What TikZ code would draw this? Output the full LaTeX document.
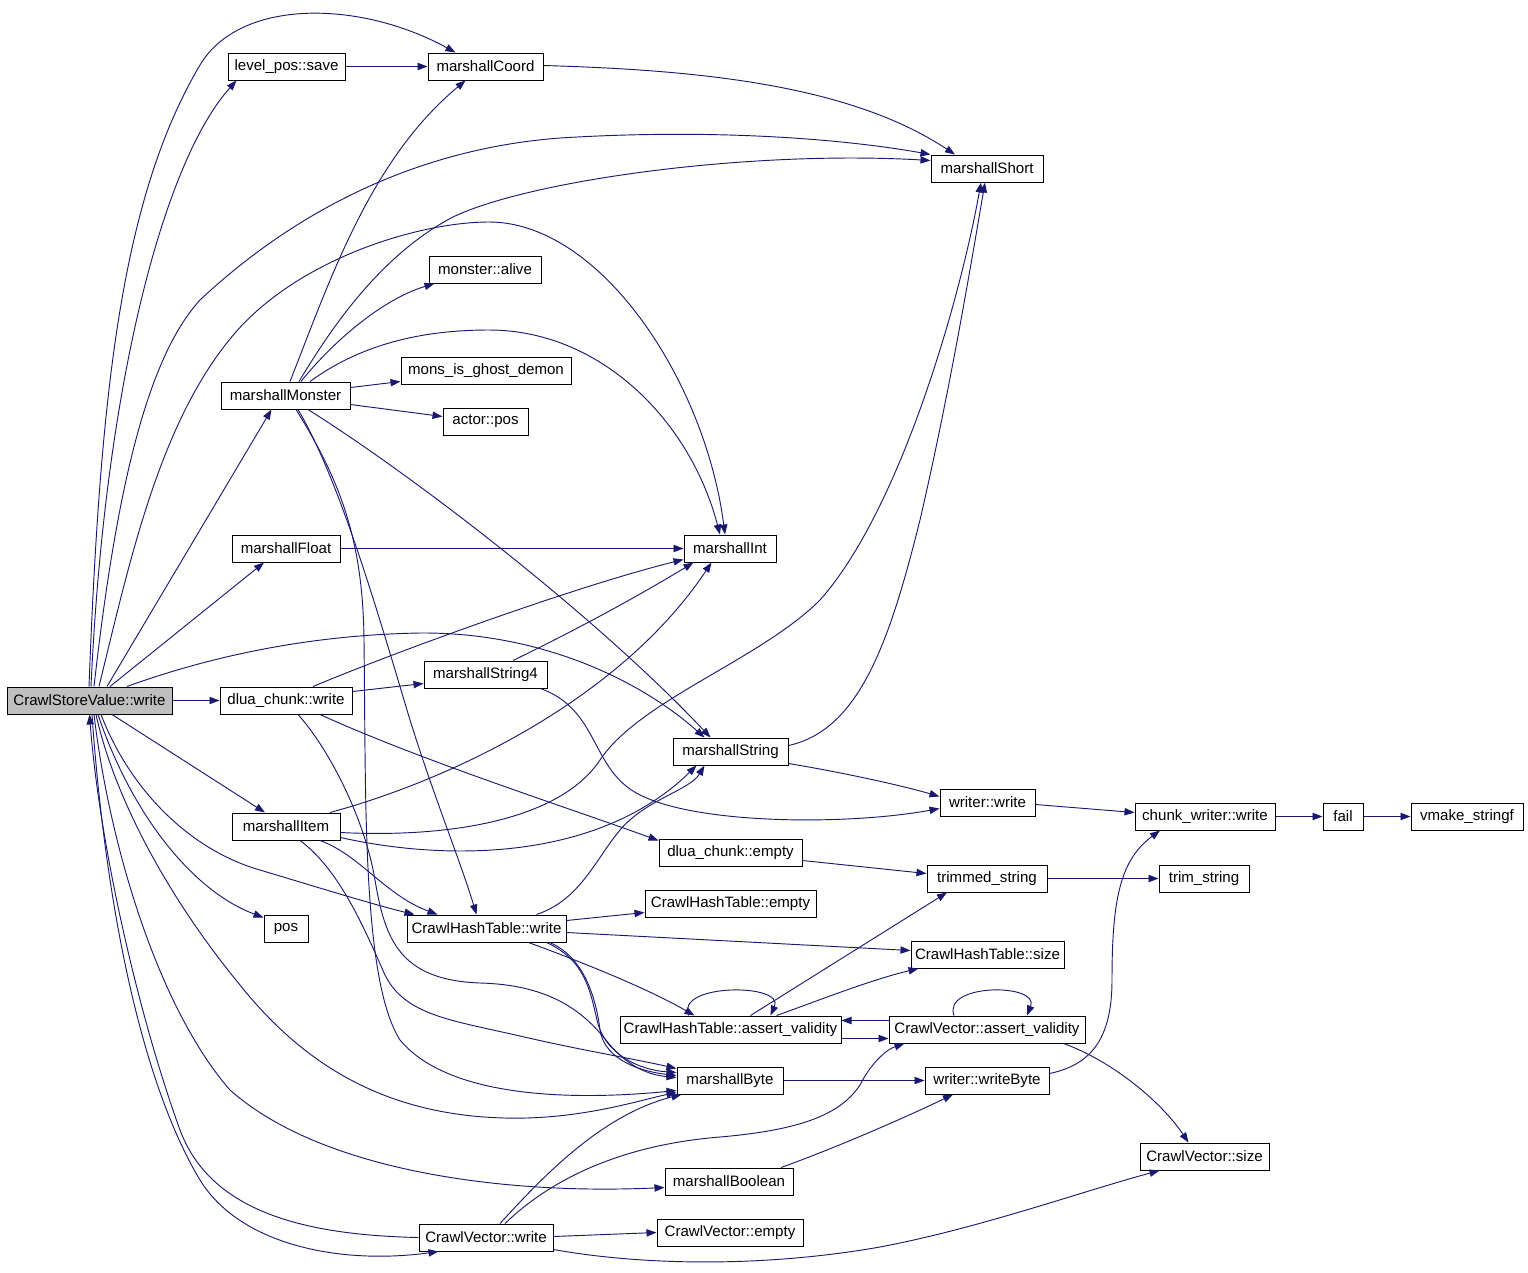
\documentclass[tikz,border=0pt]{standalone}
\usepackage{fontspec}
\setmainfont{Liberation Sans}
\usetikzlibrary{arrows.meta,calc}
\definecolor{edgeblue}{RGB}{25,25,112}
\definecolor{rootgray}{RGB}{191,191,191}
\begin{document}
\begin{tikzpicture}[x=0.75pt,y=-0.75pt,
  box/.style={draw=black,line width=0.75pt,rectangle,inner sep=0pt,minimum height=20.25pt,font=\fontsize{11.3pt}{13pt}\selectfont,fill=white},
  root/.style={box,fill=rootgray},
  edge/.style={draw=edgeblue,line width=0.7pt,-{Triangle[length=7.5pt,width=5.5pt]}},
]
\useasboundingbox (0,0) rectangle (1528,1272);
% nodes
\node[root,minimum width=123.75pt] (csv) at (89.5,700.5) {CrawlStoreValue::write};
\node[box,minimum width=87.75pt] (lps) at (286.5,66.5) {level\_pos::save};
\node[box,minimum width=86.25pt] (mcoord) at (485.5,66.5) {marshallCoord};
\node[box,minimum width=84pt] (mshort) at (987,168.5) {marshallShort};
\node[box,minimum width=84pt] (malive) at (485,269.5) {monster::alive};
\node[box,minimum width=127.5pt] (mghost) at (486,370.5) {mons\_is\_ghost\_demon};
\node[box,minimum width=63.75pt] (apos) at (485.5,421.5) {actor::pos};
\node[box,minimum width=96.75pt] (mmon) at (285.5,395.5) {marshallMonster};
\node[box,minimum width=81pt] (mfloat) at (286,548.5) {marshallFloat};
\node[box,minimum width=69pt] (mint) at (730,548.5) {marshallInt};
\node[box,minimum width=92.25pt] (ms4) at (485.5,674.5) {marshallString4};
\node[box,minimum width=99pt] (dcw) at (286,700.5) {dlua\_chunk::write};
\node[box,minimum width=86.25pt] (mstr) at (730.5,751.5) {marshallString};
\node[box,minimum width=71.25pt] (ww) at (987.5,802.5) {writer::write};
\node[box,minimum width=105pt] (cww) at (1205,816.5) {chunk\_writer::write};
\node[box,minimum width=30pt] (fail) at (1343,816.5) {fail};
\node[box,minimum width=84pt] (vms) at (1467,816.5) {vmake\_stringf};
\node[box,minimum width=81pt] (mitem) at (286,826.5) {marshallItem};
\node[box,minimum width=107.25pt] (dce) at (730.5,852.5) {dlua\_chunk::empty};
\node[box,minimum width=90pt] (tstr) at (987,878.5) {trimmed\_string};
\node[box,minimum width=67.5pt] (trim) at (1204,878.5) {trim\_string};
\node[box,minimum width=33pt] (pos) at (286,928.5) {pos};
\node[box,minimum width=119.25pt] (chw) at (486.5,928.5) {CrawlHashTable::write};
\node[box,minimum width=128.25pt] (che) at (730.5,903.5) {CrawlHashTable::empty};
\node[box,minimum width=114.75pt] (chs) at (987.5,954.5) {CrawlHashTable::size};
\node[box,minimum width=165.75pt] (chav) at (730.5,1029.5) {CrawlHashTable::assert\_validity};
\node[box,minimum width=147pt] (cvav) at (987,1029.5) {CrawlVector::assert\_validity};
\node[box,minimum width=79.5pt] (mbyte) at (730,1080.5) {marshallByte};
\node[box,minimum width=93pt] (wwb) at (987,1080.5) {writer::writeByte};
\node[box,minimum width=96.75pt] (cvs) at (1204.5,1156.5) {CrawlVector::size};
\node[box,minimum width=96pt] (mbool) at (729,1181.5) {marshallBoolean};
\node[box,minimum width=100.5pt] (cvw) at (486,1237.5) {CrawlVector::write};
\node[box,minimum width=109.5pt] (cve) at (730,1232.5) {CrawlVector::empty};
% CrawlStoreValue::write, upward
\draw[edge] ($(csv.north)+(1.5,0)$) .. controls (105,380) and (165,160) .. ($(lps.south)+(-50,0)$);
\draw[edge] ($(csv.north)+(-0.5,0)$) .. controls (100,400) and (120,200) .. (200,65) .. controls (240,-2) and (360,0) .. ($(mcoord.north)+(-30,0)$);
\draw[edge] ($(csv.north)+(4.5,0)$) .. controls (115,500) and (145,360) .. (200,300) .. controls (280,225) and (400,150) .. (560,138) .. controls (720,128) and (850,140) .. ($(mshort.west)+(0,-14)$);
\draw[edge] ($(csv.north)+(9.5,0)$) .. controls (130,560) and (160,420) .. (235,333) .. controls (300,258) and (420,222) .. (489,222) .. controls (600,222) and (705,380) .. ($(mint.north)+(-5,0)$);
\draw[edge] ($(csv.north)+(17.5,0)$) -- ($(mmon.south)+(-14,0)$);
\draw[edge] ($(csv.north)+(20.5,0)$) -- ($(mfloat.south)+(-22,0)$);
\draw[edge] ($(csv.north)+(37.5,0)$) .. controls (200,660) and (300,635) .. (420,633) .. controls (540,632) and (640,680) .. ($(mstr.north)+(-26,0)$);
\draw[edge] (csv.east) -- (dcw.west);
% CrawlStoreValue::write, downward
\draw[edge] ($(csv.south)+(22.5,0)$) -- ($(mitem.north)+(-21,0)$);
\draw[edge] ($(csv.south)+(11.5,0)$) .. controls (130,790) and (190,850) .. (260,870) .. controls (320,888) and (375,905) .. ($(chw.north)+(-72,0)$);
\draw[edge] ($(csv.south)+(8.5,0)$) .. controls (130,810) and (190,890) .. ($(pos.north west)+(0,3)$);
\draw[edge] ($(csv.south)+(6.5,0)$) .. controls (115,800) and (170,900) .. (240,985) .. controls (300,1060) and (380,1115) .. (505,1118) .. controls (580,1120) and (640,1100) .. ($(mbyte.west)+(0,12)$);
\draw[edge] ($(csv.south)+(4.5,0)$) .. controls (110,850) and (160,1010) .. (230,1090) .. controls (320,1170) and (500,1195) .. ($(mbool.west)+(0,6)$);
\draw[edge] ($(csv.south)+(2.5,0)$) .. controls (105,900) and (140,1080) .. (200,1180) .. controls (240,1245) and (340,1265) .. ($(cvw.south west)+(20,0)$);
\draw[edge] (cvw.west) .. controls (300,1235) and (210,1210) .. (180,1130) .. controls (140,1020) and (100,850) .. (csv.south);
% level_pos::save, marshallCoord
\draw[edge] (lps.east) -- (mcoord.west);
\draw[edge] ($(mcoord.east)+(0,-1)$) .. controls (700,70) and (850,85) .. ($(mshort.north)+(-32,0)$);
% marshallMonster
\draw[edge] ($(mmon.north)+(4.5,0)$) .. controls (330,280) and (370,160) .. ($(mcoord.south)+(-20,0)$);
\draw[edge] ($(mmon.north)+(13.5,0)$) .. controls (330,330) and (380,255) .. (453,217) .. controls (530,180) and (750,150) .. ($(mshort.west)+(0,-8)$);
\draw[edge] ($(mmon.north)+(24.5,0)$) .. controls (360,345) and (420,330) .. (489,330) .. controls (600,330) and (690,420) .. ($(mint.north)+(-10,0)$);
\draw[edge] ($(mmon.north)+(15.5,0)$) .. controls (330,345) and (380,300) .. ($(malive.south west)+(6,0)$);
\draw[edge] ($(mmon.east)+(0,-8)$) -- ($(mghost.west)+(0,11)$);
\draw[edge] ($(mmon.east)+(0,9)$) -- ($(apos.west)+(0,-5)$);
\draw[edge] ($(mmon.south)+(22.5,0)$) .. controls (420,480) and (600,620) .. ($(mstr.north)+(-20,0)$);
\draw[edge] ($(mmon.south)+(12.5,0)$) .. controls (340,480) and (380,620) .. (410,720) .. controls (435,800) and (460,860) .. ($(chw.north)+(-10,0)$);
\draw[edge] ($(mmon.south)+(10.5,0)$) .. controls (340,480) and (363,540) .. (364,640) .. controls (366,800) and (362,980) .. (400,1040) .. controls (450,1100) and (580,1100) .. ($(mbyte.west)+(0,10)$);
% marshallFloat
\draw[edge] (mfloat.east) -- (mint.west);
% dlua_chunk::write
\draw[edge] ($(dcw.north)+(27,0)$) .. controls (400,650) and (580,585) .. ($(mint.south west)+(0,-3)$);
\draw[edge] ($(dcw.east)+(0,-9)$) -- ($(ms4.west)+(0,9)$);
\draw[edge] ($(dcw.south)+(34,0)$) .. controls (420,760) and (560,805) .. ($(dce.north west)+(0,2)$);
\draw[edge] ($(dcw.south)+(12,0)$) .. controls (330,750) and (365,820) .. (375,880) .. controls (385,940) and (400,980) .. (480,983) .. controls (560,985) and (590,1020) .. (610,1045) .. controls (630,1068) and (650,1075) .. ($(mbyte.west)+(0,-3)$);
% marshallString4
\draw[edge] ($(ms4.north)+(27.5,0)$) .. controls (580,628) and (640,595) .. ($(mint.south west)+(10,0)$);
\draw[edge] ($(ms4.south east)+(-7,0)$) .. controls (600,710) and (590,770) .. (640,795) .. controls (700,825) and (850,825) .. ($(ww.west)+(0,6)$);
% marshallString
\draw[edge] ($(mstr.east)+(0,-6)$) .. controls (860,730) and (890,640) .. (920,520) .. controls (950,390) and (970,270) .. ($(mshort.south)+(-2,0)$);
\draw[edge] ($(mstr.east)+(0,12)$) .. controls (840,772) and (900,785) .. ($(ww.west)+(0,-6)$);
% marshallItem
\draw[edge] ($(mitem.north)+(44,0)$) .. controls (450,780) and (620,700) .. ($(mint.south west)+(28,0)$);
\draw[edge] ($(mitem.east)+(0,6)$) .. controls (450,838) and (560,820) .. (600,760) .. controls (640,700) and (760,660) .. (820,600) .. controls (900,510) and (960,300) .. ($(mshort.south)+(-6,0)$);
\draw[edge] ($(mitem.east)+(0,11)$) .. controls (450,862) and (600,860) .. ($(mstr.south)+(-34,0)$);
\draw[edge] ($(mitem.south)+(34,0)$) .. controls (360,855) and (385,895) .. ($(chw.north)+(-49,0)$);
\draw[edge] ($(mitem.south)+(14,0)$) .. controls (340,870) and (365,930) .. (385,975) .. controls (405,1015) and (450,1020) .. (520,1036) .. controls (580,1050) and (630,1058) .. ($(mbyte.west)+(0,-12)$);
% CrawlHashTable::write
\draw[edge] ($(chw.north)+(50,0)$) .. controls (580,900) and (595,860) .. (620,830) .. controls (645,800) and (690,790) .. ($(mstr.south)+(-26,0)$);
\draw[edge] ($(chw.east)+(0,-8)$) -- ($(che.west)+(0,9)$);
\draw[edge] ($(chw.east)+(0,4)$) -- ($(chs.west)+(0,-4)$);
\draw[edge] ($(chw.south)+(42,0)$) .. controls (590,965) and (650,990) .. ($(chav.north)+(-36,0)$);
\draw[edge] ($(chw.south)+(60,0)$) .. controls (585,960) and (590,990) .. (597,1020) .. controls (605,1055) and (640,1070) .. ($(mbyte.west)+(0,-8)$);
\draw[edge] ($(chw.south)+(63,0)$) .. controls (580,955) and (595,990) .. (600,1030) .. controls (605,1062) and (645,1072) .. ($(mbyte.west)+(0,-5)$);
% right part
\draw[edge] ($(dce.east)+(0,8)$) -- ($(tstr.west)+(0,-5)$);
\draw[edge] (tstr.east) -- (trim.west);
\draw[edge] ($(ww.east)+(0,2)$) -- ($(cww.west)+(0,-4)$);
\draw[edge] (cww.east) -- (fail.west);
\draw[edge] (fail.east) -- (vms.west);
% CrawlHashTable::assert_validity
\draw[edge] ($(chav.north)+(-42,0)$) .. controls (675,983) and (785,983) .. ($(chav.north)+(40,0)$);
\draw[edge] ($(chav.north)+(20,0)$) -- ($(tstr.south)+(-40,0)$);
\draw[edge] ($(chav.north)+(46,0)$) .. controls (820,1000) and (870,980) .. ($(chs.south west)+(8,0)$);
\draw[edge] ($(chav.east)+(0,9)$) -- ($(cvav.west)+(0,9)$);
% CrawlVector::assert_validity
\draw[edge] ($(cvav.west)+(0,-9)$) -- ($(chav.east)+(0,-9)$);
\draw[edge] ($(cvav.north)+(-33,0)$) .. controls (942,983) and (1040,983) .. ($(cvav.north)+(40,0)$);
\draw[edge] ($(cvav.south east)+(-22,0)$) .. controls (1110,1060) and (1160,1100) .. ($(cvs.north)+(-16,0)$);
% marshallByte, writer::writeByte, marshallBoolean
\draw[edge] (mbyte.east) -- (wwb.west);
\draw[edge] ($(wwb.east)+(0,-7)$) .. controls (1090,1065) and (1112,1040) .. (1112,980) .. controls (1112,900) and (1120,860) .. ($(cww.south)+(-45,0)$);
\draw[edge] ($(mbool.north)+(52,0)$) .. controls (830,1150) and (900,1120) .. ($(wwb.south)+(-34,0)$);
% CrawlVector::write
\draw[edge] ($(cvw.north)+(14,0)$) .. controls (540,1180) and (600,1115) .. ($(mbyte.south west)+(5,0)$);
\draw[edge] ($(cvw.north)+(19,0)$) .. controls (550,1180) and (620,1145) .. (720,1137) .. controls (800,1130) and (840,1115) .. (860,1085) .. controls (870,1065) and (885,1050) .. ($(cvav.south west)+(16,0)$);
\draw[edge] ($(cvw.east)+(0,-1)$) -- (cve.west);
\draw[edge] ($(cvw.east)+(0,12)$) .. controls (640,1265) and (760,1268) .. (880,1247) .. controls (980,1228) and (1080,1192) .. ($(cvs.south west)+(20,0)$);
\end{tikzpicture}
\end{document}
